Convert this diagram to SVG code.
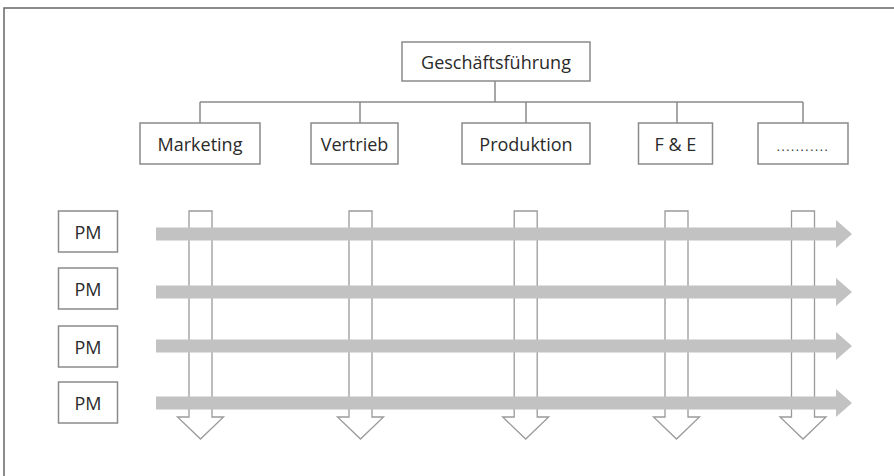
<svg xmlns="http://www.w3.org/2000/svg" width="894" height="476" viewBox="0 0 894 476">
<style>
.box{fill:#fff;stroke:#8a8a8a;stroke-width:1.5}
.lbl{font-family:"Open Sans","Liberation Sans",sans-serif;font-size:18px;fill:#2a2a2a;text-anchor:middle;dominant-baseline:central}
.ln{stroke:#8a8a8a;stroke-width:1.5;fill:none}
.va{fill:#fff;stroke:#9a9a9a;stroke-width:1.3;stroke-linejoin:miter}
.ha{fill:#c2c2c2}
</style>
<defs>
<path id="down" class="va" d="M-11.5,0 H11.5 V206 H23 L0,228 L-23,206 H-11.5 Z"/>
<path id="right" class="ha" d="M0,-6.5 H680 V-14 L696,0 L680,14 V6.5 H0 Z"/>
</defs>
<rect width="894" height="476" fill="#fff"/>
<path d="M4,476 V8 H894" fill="none" stroke="#666" stroke-width="1.5"/>

<g id="connectors">
<path class="ln" d="M495,81 V102 M200,102 H803 M200,102 V123 M360,102 V123 M526,102 V123 M677,102 V123 M803,102 V123"/>
</g>

<g id="n-gf"><rect class="box" x="402" y="42" width="188" height="39"/><text class="lbl" x="496" y="62">Geschäftsführung</text></g>
<g id="n-marketing"><rect class="box" x="140" y="123" width="120" height="41"/><text class="lbl" x="200" y="144">Marketing</text></g>
<g id="n-vertrieb"><rect class="box" x="311" y="123" width="87" height="41"/><text class="lbl" x="354.5" y="144">Vertrieb</text></g>
<g id="n-produktion"><rect class="box" x="462" y="123" width="128" height="41"/><text class="lbl" x="526" y="144">Produktion</text></g>
<g id="n-fe"><rect class="box" x="638.5" y="123" width="74" height="41"/><text class="lbl" x="675.5" y="144">F &amp; E</text></g>
<g id="n-more"><rect class="box" x="758" y="123" width="90" height="41"/><text class="lbl" x="803" y="146" style="font-size:12px;letter-spacing:1.6px">...........</text></g>

<g id="functional-arrows">
<use href="#down" x="200.5" y="211"/>
<use href="#down" x="360.5" y="211"/>
<use href="#down" x="525.7" y="211"/>
<use href="#down" x="676.5" y="211"/>
<use href="#down" x="803" y="211"/>
</g>

<g id="project-arrows">
<use href="#right" x="156" y="234"/>
<use href="#right" x="156" y="292"/>
<use href="#right" x="156" y="346"/>
<use href="#right" x="156" y="403"/>
</g>

<g id="n-pm1"><rect class="box" x="58.5" y="211" width="59" height="41"/><text class="lbl" x="88" y="231.5">PM</text></g>
<g id="n-pm2"><rect class="box" x="58.5" y="268" width="59" height="41"/><text class="lbl" x="88" y="288.5">PM</text></g>
<g id="n-pm3"><rect class="box" x="58.5" y="326" width="59" height="41"/><text class="lbl" x="88" y="346.5">PM</text></g>
<g id="n-pm4"><rect class="box" x="58.5" y="382" width="59" height="41"/><text class="lbl" x="88" y="402.5">PM</text></g>
</svg>
